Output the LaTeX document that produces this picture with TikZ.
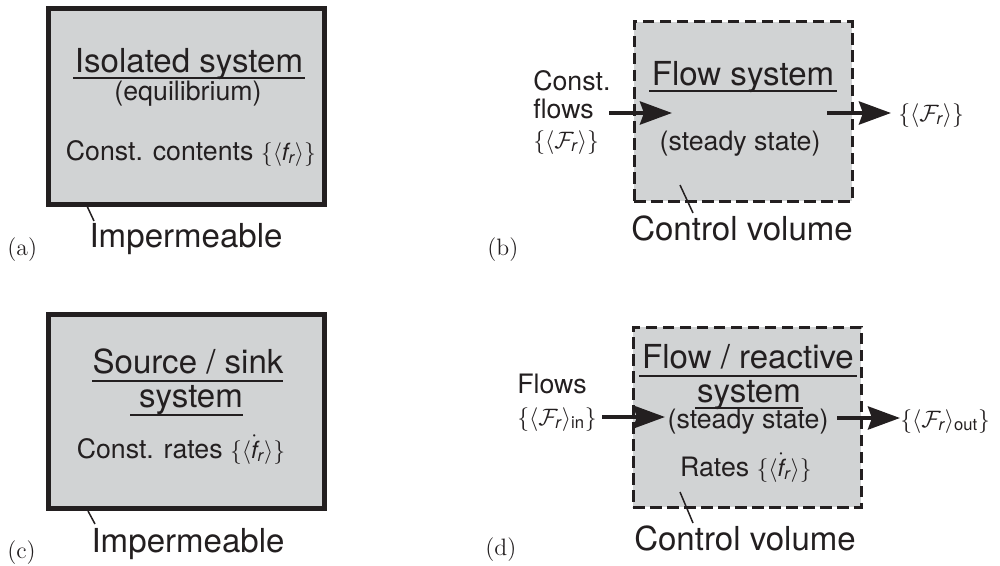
\RequirePackage{fix-cm}
\documentclass[tikz,border=0pt]{standalone}
\usepackage{amsmath}
\usepackage{fontspec}
\setsansfont{TeX Gyre Heros}
\usetikzlibrary{arrows.meta}
\definecolor{boxgray}{RGB}{209,211,212}
\definecolor{ink}{RGB}{35,31,32}
\newcommand{\mth}[1]{{\fontsize{13.5}{16}\selectfont$#1$}}
\newcommand{\Frr}{\mathcal{F}_{\text{\itshape r}}}
\newcommand{\frr}{\text{\itshape f}_{\text{\itshape r}}}
\newcommand{\dfrr}{\dot{\text{\itshape f}}_{\text{\itshape r}}}
\tikzset{
  big/.style={font=\sffamily\fontsize{18.8}{22}\selectfont, inner sep=0pt, text=ink, anchor=base},
  small/.style={font=\sffamily\fontsize{15.2}{18}\selectfont, inner sep=0pt, text=ink, anchor=base},
  lbl/.style={font=\rmfamily\fontsize{13.5}{15}\selectfont, inner sep=0pt, anchor=base west, text=ink},
  solidbox/.style={draw=ink, fill=boxgray, line width=1mm, inner sep=0pt},
  dashbox/.style={draw=ink, fill=boxgray, line width=0.6mm, dash pattern=on 2.3mm off 1.1mm, inner sep=0pt},
  uline/.style={draw=ink, line width=0.5mm},
  leader/.style={draw=ink, line width=0.3mm},
  flow/.style={draw=ink, line width=0.85mm, -{Stealth[length=6.4mm,width=4.6mm,inset=0.8mm]}},
}
\begin{document}
\begin{tikzpicture}[x=0.2mm, y=-0.2mm]
\useasboundingbox (0,0) rectangle (1000,565);

% ---------- (a) ----------
\node[solidbox, minimum width=55mm, minimum height=39mm] (boxA) at (186.5,106.5) {};
\node[big] (titA) at (189,72) {Isolated system};
\coordinate (uA1) at (73,78); \coordinate (uA2) at (305,78);
\draw[uline] (uA1) -- (uA2);
\node[small] (eqA) at (188,100) {(equilibrium)};
\node[small] (ccA) at (191,160) {Const. contents \mth{\{\langle\frr\rangle\}}};
\coordinate (lA1) at (87,206); \coordinate (lA2) at (94,221);
\draw[leader] (lA1) -- (lA2);
\node[big] (impA) at (186,247) {Impermeable};
\node[lbl] (labA) at (7,255) {(a)};

% ---------- (c) ----------
\node[solidbox, minimum width=55mm, minimum height=38.8mm] (boxC) at (186.5,411) {};
\node[big] (titC1) at (188,373) {Source / sink};
\coordinate (uC1) at (92,381); \coordinate (uC2) at (283,381);
\draw[uline] (uC1) -- (uC2);
\node[big] (titC2) at (191,407) {system};
\coordinate (uC3) at (130,415); \coordinate (uC4) at (243,415);
\draw[uline] (uC3) -- (uC4);
\node[small] (crC) at (181,458) {Const. rates \mth{\{\langle\dfrr\rangle\}}};
\coordinate (lC1) at (88,511); \coordinate (lC2) at (95,524);
\draw[leader] (lC1) -- (lC2);
\node[big] (impC) at (188,552) {Impermeable};
\node[lbl] (labC) at (7,558) {(c)};

% ---------- (b) ----------
\node[dashbox, minimum width=43.6mm, minimum height=35.8mm] (boxB) at (743,111.5) {};
\node[big] (titB) at (743,85) {Flow system};
\coordinate (uB1) at (649,91); \coordinate (uB2) at (837,91);
\draw[uline] (uB1) -- (uB2);
\node[small] (ssB) at (740,150) {(steady state)};
\node[small, anchor=base west] (cB1) at (533,90) {Const.};
\node[small, anchor=base west] (cB2) at (533,118) {flows};
\node[small, anchor=base west] (cB3) at (533,148) {\mth{\{\langle\Frr\rangle\}}};
\coordinate (aB1) at (609,113); \coordinate (aB2) at (672,113);
\draw[flow] (aB1) -- (aB2);
\coordinate (aB3) at (827,113); \coordinate (aB4) at (891,113);
\draw[flow] (aB3) -- (aB4);
\node[small, anchor=base west] (oB) at (898,121) {\mth{\{\langle\Frr\rangle\}}};
\coordinate (lB1) at (680,185); \coordinate (lB2) at (693,213);
\draw[leader] (lB1) -- (lB2);
\node[big] (cvB) at (742,240) {Control volume};
\node[lbl] (labB) at (487,255) {(b)};

% ---------- (d) ----------
\node[dashbox, minimum width=45.6mm, minimum height=36mm] (boxD) at (747,417) {};
\node[big] (titD1) at (748,368) {Flow / reactive};
\coordinate (uD1) at (639,376); \coordinate (uD2) at (857,376);
\draw[uline] (uD1) -- (uD2);
\node[big] (titD2) at (749,402) {system};
\coordinate (uD3) at (695,408); \coordinate (uD4) at (803,408);
\draw[uline] (uD3) -- (uD4);
\node[small] (ssD) at (748,428) {(steady state)};
\node[small, anchor=base west] (fD1) at (517,393) {Flows};
\node[small, anchor=base west] (fD2) at (517,425) {\mth{\{\langle\Frr\rangle_{\text{in}}\}}};
\coordinate (aD1) at (602,417); \coordinate (aD2) at (665,417);
\draw[flow] (aD1) -- (aD2);
\coordinate (aD3) at (837,418); \coordinate (aD4) at (900,418);
\draw[flow] (aD3) -- (aD4);
\node[small, anchor=base west] (oD) at (900,427) {\mth{\{\langle\Frr\rangle_{\text{out}}\}}};
\node[small] (rD) at (746,476) {Rates \mth{\{\langle\dfrr\rangle\}}};
\coordinate (lD1) at (680,492); \coordinate (lD2) at (693,523);
\draw[leader] (lD1) -- (lD2);
\node[big] (cvD) at (745,550) {Control volume};
\node[lbl] (labD) at (485,555) {(d)};
\end{tikzpicture}
\end{document}
